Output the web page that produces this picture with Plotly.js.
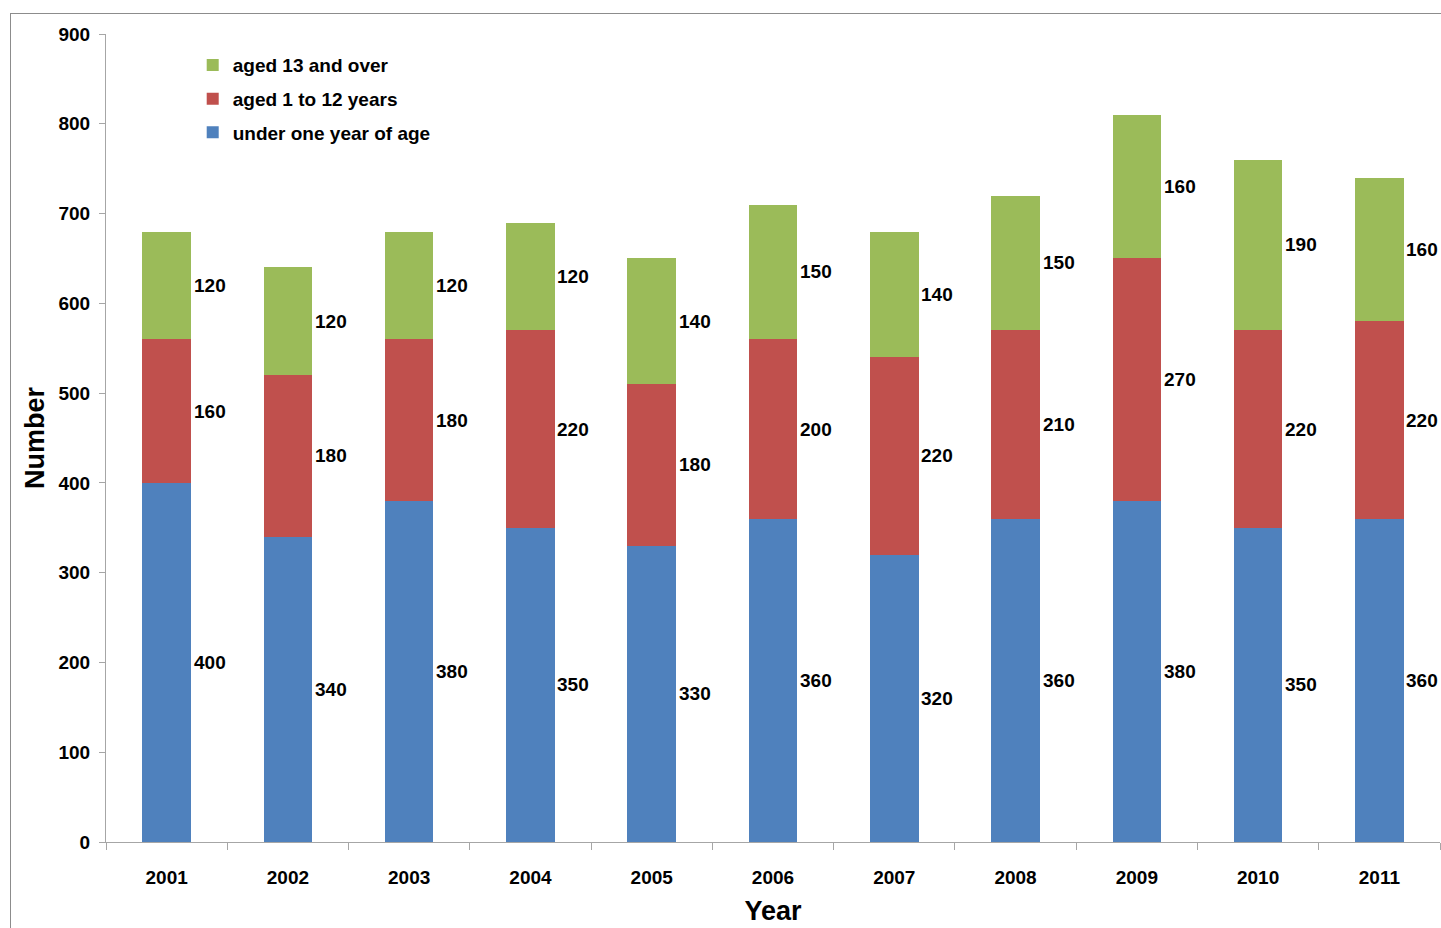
<!DOCTYPE html>
<html>
<head>
<meta charset="utf-8">
<script src="https://cdn.plot.ly/plotly-3.0.1.min.js"></script>
<style>
html,body{margin:0;padding:0;overflow:hidden;background:#fff;width:1441px;height:928px;}
#frame{position:absolute;left:10px;top:13px;width:1600px;height:1000px;border:1px solid #8c8c8c;}
#chart{position:absolute;left:0;top:0;width:1441px;height:928px;}
</style>
</head>
<body>
<div id="frame"></div>
<div id="chart"></div>
<script>
const years = ['2001','2002','2003','2004','2005','2006','2007','2008','2009','2010','2011'];
const underOne = [400,340,380,350,330,360,320,360,380,350,360];
const aged1to12 = [160,180,180,220,180,200,220,210,270,220,220];
const aged13plus = [120,120,120,120,140,150,140,150,160,190,160];

const seriesNames = ['under one year of age','aged 1 to 12 years','aged 13 and over'];
const seriesColors = ['#4F81BD','#C0504D','#9BBB59'];
const seriesValues = [underOne, aged1to12, aged13plus];

const FONT = 'Liberation Sans, Arial, sans-serif';

const traces = seriesValues.map((vals, i) => ({
  type: 'bar',
  x: years,
  y: vals,
  name: seriesNames[i],
  legendgroup: 'g' + i,
  legendrank: 3 - i,
  marker: {color: seriesColors[i], line: {width: 0}},
  hoverinfo: 'x+y+name'
}));

const annotations = [];
years.forEach((yr, j) => {
  let base = 0;
  seriesValues.forEach((vals) => {
    const v = vals[j];
    annotations.push({
      x: j, y: base + v / 2, xref: 'x', yref: 'y',
      text: '<b>' + v + '</b>', showarrow: false,
      xanchor: 'left', yanchor: 'middle', xshift: 25,
      font: {family: FONT, size: 19, color: '#000'}
    });
    base += v;
  });
});

const layout = {
  width: 1441, height: 928,
  margin: {l: 106, r: 1, t: 34, b: 86},
  paper_bgcolor: 'rgba(0,0,0,0)',
  plot_bgcolor: 'rgba(0,0,0,0)',
  barmode: 'stack',
  bargap: 0.6,
  showlegend: true,
  legend: {
    x: 0.065, y: 0.985, xanchor: 'left', yanchor: 'top',
    traceorder: 'grouped', tracegroupgap: 6,
    bgcolor: 'rgba(0,0,0,0)',
    font: {family: FONT, size: 19, color: '#000', weight: 'bold'},
    itemwidth: 30
  },
  xaxis: {
    type: 'category',
    range: [-0.5, years.length - 0.5],
    tickson: 'boundaries',
    ticks: 'outside', ticklen: 7, tickcolor: '#a6a6a6', tickwidth: 1,
    showline: true, linecolor: '#a6a6a6', linewidth: 1,
    showgrid: false, zeroline: false,
    ticklabelstandoff: 18,
    tickfont: {family: FONT, size: 19, color: '#000', weight: 'bold'},
    title: {text: '<b>Year</b>', font: {family: FONT, size: 27, color: '#000'}, standoff: 14}
  },
  yaxis: {
    range: [0, 900],
    dtick: 100, tick0: 0,
    ticks: 'outside', ticklen: 6, tickcolor: '#a6a6a6', tickwidth: 1,
    showline: true, linecolor: '#a6a6a6', linewidth: 1,
    showgrid: false, zeroline: false,
    ticklabelstandoff: 5,
    tickfont: {family: FONT, size: 19, color: '#000', weight: 'bold'},
    title: {text: '<b>Number</b>', font: {family: FONT, size: 27, color: '#000'}, standoff: 6}
  },
  annotations: annotations
};

Plotly.newPlot('chart', traces, layout, {displayModeBar: false, staticPlot: true});
</script>
</body>
</html>
